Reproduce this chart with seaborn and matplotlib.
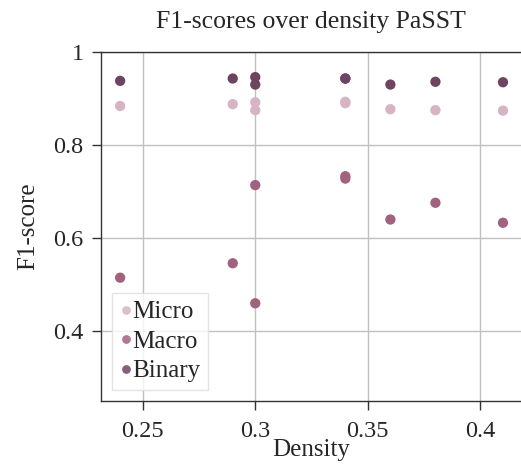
import matplotlib
matplotlib.use("Agg")
import matplotlib.pyplot as plt
import seaborn as sns
import pandas as pd
from matplotlib.ticker import FuncFormatter

density = [0.24, 0.29, 0.30, 0.30, 0.34, 0.34, 0.36, 0.38, 0.41]
micro = [0.884, 0.888, 0.892, 0.875, 0.893, 0.890, 0.877, 0.875, 0.874]
macro = [0.515, 0.546, 0.714, 0.460, 0.733, 0.728, 0.640, 0.676, 0.633]
binary = [0.938, 0.943, 0.946, 0.930, 0.943, 0.943, 0.930, 0.936, 0.935]
series = ["Micro", "Macro", "Binary"]
colors = ["#d6b4c4", "#a0627f", "#6e4560"]

rows = []
for name, vals in zip(series, [micro, macro, binary]):
    for d, v in zip(density, vals):
        rows.append({"Density": d, "F1-score": v, "Metric": name})
df = pd.DataFrame(rows)

sns.set_theme(style="whitegrid")
plt.rcParams["font.family"] = ["Liberation Serif", "DejaVu Serif"]
plt.rcParams["mathtext.fontset"] = "dejavuserif"

fig = plt.figure(figsize=(5.21, 4.70), dpi=100)
ax = fig.add_axes([101 / 521, (470 - 401) / 470, 420 / 521, (401 - 52) / 470])

sns.scatterplot(data=df, x="Density", y="F1-score", hue="Metric",
                palette=colors, hue_order=series, s=55, edgecolor="none",
                linewidth=0, ax=ax, zorder=3)

ax.set_xlim(0.2315, 0.418)
ax.set_ylim(0.25, 1.0)
ax.set_xticks([0.25, 0.3, 0.35, 0.4])
ax.set_yticks([0.4, 0.6, 0.8, 1.0])
fmt = FuncFormatter(lambda v, p: f"{v:g}")
ax.xaxis.set_major_formatter(fmt)
ax.yaxis.set_major_formatter(fmt)
ax.tick_params(axis="both", labelsize=17.5, length=6.5, width=1, color="#333333",
               direction="out", bottom=True, left=True, pad=6)
ax.tick_params(axis="x", pad=8)
ax.grid(True, color="#c0c0c0", linewidth=1)
ax.spines["right"].set_visible(False)
for side in ["left", "bottom", "top"]:
    ax.spines[side].set_color("#333333")
    ax.spines[side].set_linewidth(1)
ax.set_xlabel("Density", fontsize=18, labelpad=-2)
ax.set_ylabel("F1-score", fontsize=18, labelpad=10)
ax.set_title("F1-scores over density PaSST", fontsize=18.5, pad=17)

leg = ax.legend(loc="lower left", fontsize=18, frameon=True, fancybox=False,
                handletextpad=0.0, handlelength=0.5, borderpad=0.3,
                labelspacing=0.28, borderaxespad=0.45, markerscale=0.85)
leg.get_frame().set_edgecolor("#dddddd")
leg.get_frame().set_linewidth(1)
for h in leg.legend_handles:
    h.set_alpha(0.85)

fig.savefig("out.png", dpi=100)
